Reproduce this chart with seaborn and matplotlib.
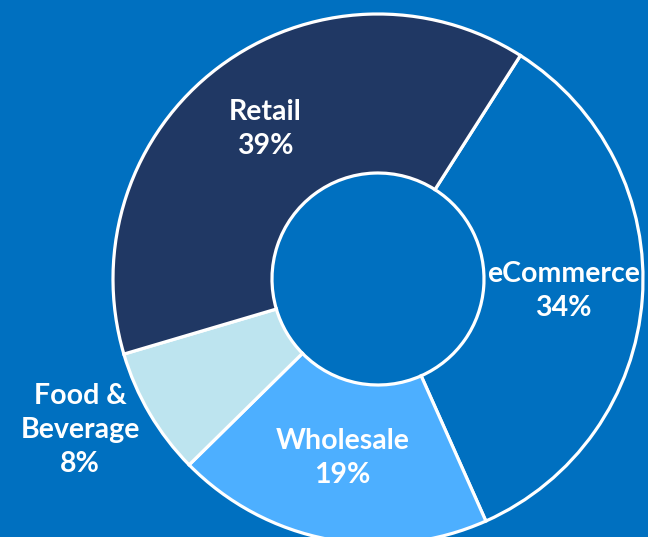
import matplotlib.pyplot as plt
import seaborn as sns
import numpy as np

# data
segments = ['eCommerce', 'Wholesale', 'Food &\nBeverage', 'Retail']
shares = [34.3, 19.3, 7.8, 38.6]
colors = ['#0070C0', '#4DAFFF', '#BDE4EF', '#203864']
bg = '#0070C0'

sns.set_theme(style='white')
plt.rcParams['font.family'] = ['Lato', 'DejaVu Sans']

fig = plt.figure(figsize=(6.48, 5.37), dpi=100, facecolor=bg)
ax = fig.add_axes([0, 0, 1, 1])
ax.set_facecolor(bg)

cx, cy, r = 378, 258, 265
wedges, _ = ax.pie(shares, colors=colors, startangle=57.5, counterclock=False,
                   center=(cx, cy), radius=r, frame=True,
                   wedgeprops=dict(width=r * 0.6, edgecolor='white', linewidth=2.3))
ax.set_xlim(0, 648)
ax.set_ylim(0, 537)
ax.set_aspect('equal')
ax.axis('off')

# label distance (fraction of radius) and angle shift per segment
label_dist = [0.70, 0.69, 1.26, 0.71]
label_shift = [0.5, -0.5, -3.6, 0]
for w, name, val, d, s in zip(wedges, segments, shares, label_dist, label_shift):
    ang = np.deg2rad((w.theta1 + w.theta2) / 2 + s)
    x = cx + d * r * np.cos(ang)
    y = cy + d * r * np.sin(ang)
    ax.text(x, y, f'{name}\n{val:.0f}%', ha='center', va='center', color='white',
            fontsize=20.5, fontweight='bold', linespacing=1.38)

fig.savefig('out.png', dpi=100, facecolor=bg)
